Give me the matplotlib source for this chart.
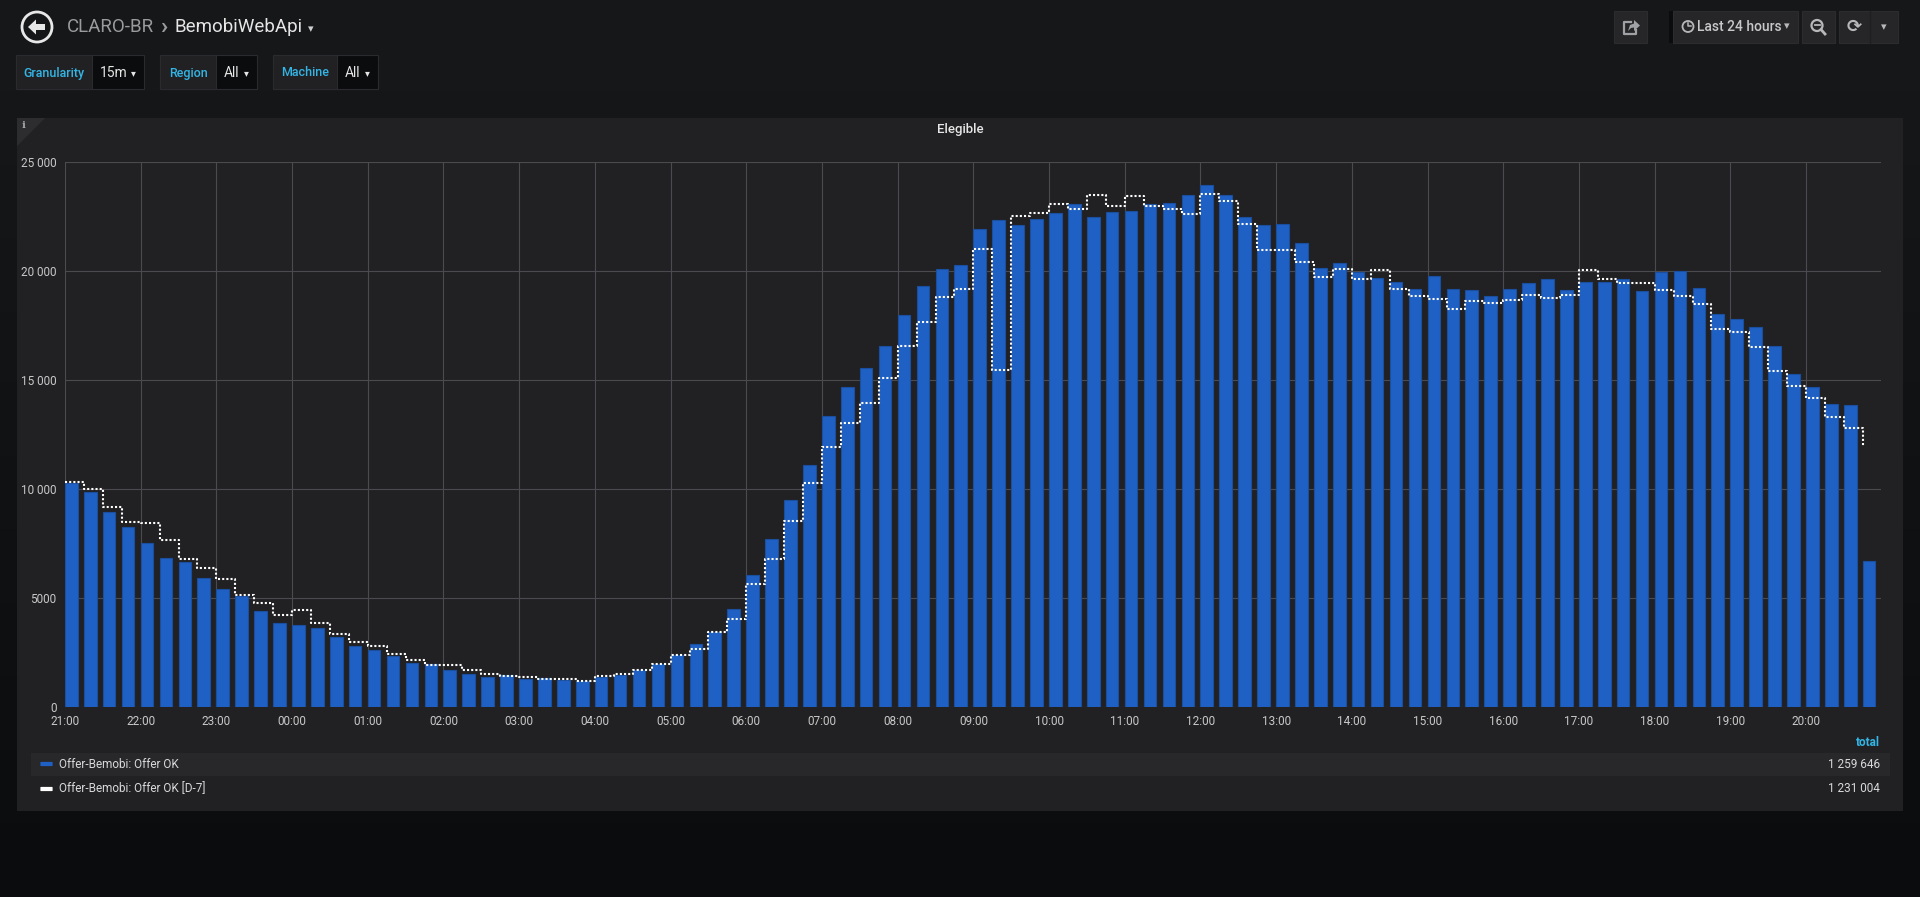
import numpy as np
import matplotlib
matplotlib.use("Agg")
import matplotlib.pyplot as plt
from matplotlib.patches import Rectangle, Polygon, Circle, FancyBboxPatch

plt.rcParams['font.family'] = ['Roboto', 'DejaVu Sans']

# 15 minute buckets starting 21:00
offer_ok = [10283, 9860, 8926, 8264, 7535, 6822, 6669, 5906, 5413, 5108, 4395, 3869,
            3750, 3632, 3207, 2800, 2613, 2359, 2036, 1985, 1714, 1527, 1358, 1459,
            1290, 1324, 1222, 1188, 1358, 1459, 1697, 1968, 2376, 2902, 3462, 4497,
            6041, 7687, 9486, 11081, 13338, 14679, 15561, 16563, 17971, 19312, 20075, 20262,
            21925, 22350, 22095, 22401, 22655, 23079, 22468, 22706, 22757, 23079, 23130, 23469,
            23962, 23469, 22468, 22112, 22146, 21297, 20160, 20347, 19957, 19668, 19498, 19159,
            19770, 19159, 19125, 18854, 19176, 19431, 19634, 19142, 19515, 19481, 19634, 19074,
            19957, 19991, 19227, 18022, 17802, 17446, 16546, 15256, 14697, 13916, 13831, 6686]
offer_ok_d7 = [10318, 9978, 9164, 8502, 8451, 7653, 6771, 6364, 5855, 5125, 4752, 4243,
               4446, 3869, 3360, 2987, 2800, 2444, 2138, 1935, 1935, 1714, 1527, 1442,
               1392, 1290, 1273, 1205, 1442, 1493, 1714, 1952, 2376, 2681, 3462, 4056,
               5634, 6771, 8536, 10284, 11913, 13033, 13966, 15103, 16563, 17649, 18820, 19159,
               20992, 15443, 22503, 22638, 23079, 22859, 23486, 22994, 23418, 22994, 22825, 22621,
               23537, 23215, 22163, 20958, 20958, 20415, 19702, 20109, 19617, 20024, 19159, 18854,
               18701, 18277, 18633, 18515, 18684, 18922, 18752, 18888, 20024, 19651, 19447, 19430,
               19108, 18837, 18464, 17361, 17191, 16495, 15392, 14747, 14170, 13305, 12813, 11981]
hour_labels = ['21:00', '22:00', '23:00', '00:00', '01:00', '02:00', '03:00', '04:00',
               '05:00', '06:00', '07:00', '08:00', '09:00', '10:00', '11:00', '12:00',
               '13:00', '14:00', '15:00', '16:00', '17:00', '18:00', '19:00', '20:00']
y_ticks = [0, 5000, 10000, 15000, 20000, 25000]
y_labels = ['0', '5000', '10 000', '15 000', '20 000', '25 000']
series_names = ['Offer-Bemobi: Offer OK', 'Offer-Bemobi: Offer OK [D-7]']
series_totals = ['1 259 646', '1 231 004']

W, H = 1920, 897
fig = plt.figure(figsize=(W / 100, H / 100), dpi=100)

# background / chrome layer in pixel coordinates
bg = fig.add_axes([0, 0, 1, 1])
bg.set_xlim(0, W)
bg.set_ylim(H, 0)
bg.axis('off')
grad = np.linspace(0, 1, 256).reshape(-1, 1)
top_c = np.array([0x16, 0x17, 0x19]) / 255
bot_c = np.array([0x0b, 0x0c, 0x0e]) / 255
img = top_c + (bot_c - top_c) * np.clip((grad - 0.1) / 0.9, 0, 1)[..., None] * np.ones((1, 1, 3))
bg.imshow(img, extent=[0, W, H, 0], aspect='auto', zorder=0)

# header
bg.add_patch(Circle((37, 27), 15, fill=False, ec='#e8e8e8', lw=2, zorder=2))
bg.add_patch(Polygon([[28, 27], [36, 19.5], [36, 24], [45, 24], [45, 30], [36, 30], [36, 34.5]],
                     closed=True, fc='#e8e8e8', ec='none', zorder=2))
bg.text(67, 27, 'CLARO-BR', color='#9a9b9d', fontsize=13.5, va='center', ha='left', zorder=2)
bg.text(160, 27, '›', color='#9a9b9d', fontsize=17, va='center', ha='left', weight='bold', zorder=2)
bg.text(175, 27, 'BemobiWebApi', color='#e6e6e6', fontsize=13.5, va='center', ha='left', zorder=2)
bg.text(308, 29, '▾', color='#cfcfcf', fontsize=8, va='center', ha='left', family='DejaVu Sans', zorder=2)

# template variables
variables = [('Granularity', '15m', 16, 92, 144), ('Region', 'All', 160, 216, 257),
             ('Machine', 'All', 273, 337, 378)]
for label, value, x0, x1, x2 in variables:
    bg.add_patch(Rectangle((x0, 55), x1 - x0, 34, fc='#212124', ec='#2b2b2f', lw=0.8, zorder=2))
    bg.add_patch(Rectangle((x1, 55), x2 - x1, 34, fc='#0b0c0e', ec='#2b2b2f', lw=0.8, zorder=2))
    bg.text((x0 + x1) / 2, 73, label, color='#33b5e5', fontsize=9, weight='medium',
            va='center', ha='center', zorder=3)
    bg.text(x1 + 8, 73, value, color='#e6e6e6', fontsize=10, va='center', ha='left', zorder=3)
    bg.text(x2 - 8, 73, '▾', color='#e6e6e6', fontsize=7, va='center', ha='right',
            family='DejaVu Sans', zorder=3)

# top right buttons
for bx0, bx1 in [(1614, 1647), (1673, 1798), (1802, 1835), (1839, 1898)]:
    bg.add_patch(Rectangle((bx0, 11), bx1 - bx0, 32, fc='#262628', ec='#2c2c2f', lw=0.8, zorder=2))
bg.add_patch(Rectangle((1669, 11), 4, 32, fc='#0b0c0e', ec='none', zorder=2))
bg.plot([1870, 1870], [11, 43], color='#1f1f21', lw=1, zorder=3)
# share icon
bg.plot([1631, 1624, 1624, 1636, 1636], [22, 22, 34, 34, 30], color='#9fa1a4', lw=1.6, zorder=3)
bg.add_patch(Polygon([[1628, 31], [1630, 25], [1634, 23.5], [1634, 20], [1640, 25.5],
                      [1634, 31], [1634, 27.5], [1631, 28]], closed=True,
                     fc='#9fa1a4', ec='none', zorder=3))
bg.add_patch(Circle((1688, 26.5), 5.5, fill=False, ec='#b8b8ba', lw=1.3, zorder=3))
bg.plot([1688, 1688, 1691], [23, 26.5, 26.5], color='#b8b8ba', lw=1.1, zorder=3)
bg.text(1697, 27, 'Last 24 hours', color='#c8c8ca', fontsize=10, ha='left', va='center',
        weight='medium', zorder=3)
bg.text(1787, 26, '▾', color='#b8b8ba', fontsize=8, ha='center', va='center',
        family='DejaVu Sans', zorder=3)
bg.add_patch(Circle((1817, 25.5), 5.5, fill=False, ec='#b8b8ba', lw=1.6, zorder=3))
bg.plot([1821, 1825], [29.5, 34], color='#b8b8ba', lw=2, zorder=3)
bg.plot([1814.5, 1819.5], [25.5, 25.5], color='#b8b8ba', lw=1.3, zorder=3)
bg.text(1854.5, 27, '⟳', color='#b8b8ba', fontsize=13, ha='center', va='center',
        family='DejaVu Sans', weight='bold', zorder=3)
bg.text(1884, 27, '▾', color='#b8b8ba', fontsize=8, ha='center', va='center',
        family='DejaVu Sans', zorder=3)

# panel
bg.add_patch(Rectangle((17, 118), 1886, 693, fc='#212124', ec='none', zorder=1))
bg.add_patch(Polygon([[17, 118], [45, 118], [17, 146]], closed=True, fc='#2d2d30', ec='none', zorder=2))
bg.text(24, 125, 'i', color='#a8a8ab', fontsize=7.5, ha='center', va='center',
        family='DejaVu Serif', weight='bold', zorder=3)
bg.text(960, 130, 'Elegible', color='#e6e6e6', fontsize=9.5, weight='medium',
        ha='center', va='center', zorder=3)

# legend
bg.add_patch(Rectangle((31, 753), 1859, 23, fc='#28282b', ec='none', zorder=2))
bg.text(1880, 742, 'total', color='#33b5e5', fontsize=8.5, weight='bold', ha='right',
        va='center', zorder=3)
for i, (name, total, col) in enumerate(zip(series_names, series_totals, ['#1f60c4', '#ffffff'])):
    yy = 764 + 25 * i
    bg.add_patch(FancyBboxPatch((41, yy - 1.5), 11, 3, boxstyle='round,pad=0.6',
                                fc=col, ec='none', zorder=3))
    bg.text(59, yy, name, color='#d8d9da', fontsize=8.5, ha='left', va='center', zorder=3)
    bg.text(1880, yy, total, color='#d8d9da', fontsize=8.5, ha='right', va='center', zorder=3)

# chart
px_per_hour = 75.7
ax = fig.add_axes([65 / W, (H - 707) / H, (1881 - 65) / W, (707 - 162) / H])
ax.set_facecolor('none')
x = np.arange(len(offer_ok)) * 0.25
ax.bar(x, offer_ok, width=0.25 * 0.665, align='edge', color='#1f60c4',
       edgecolor='#1a4f9f', linewidth=0.8, zorder=2)
ax.step(x, offer_ok_d7, where='post', color='white', lw=1.5,
        linestyle=(0, (1, 1)), zorder=3)
ax.set_xlim(0, (1881 - 65) / px_per_hour)
ax.set_ylim(0, 25000)
ax.set_xticks(np.arange(len(hour_labels)))
ax.set_xticklabels(hour_labels)
ax.set_yticks(y_ticks)
ax.set_yticklabels(y_labels)
ax.grid(True, color='#4a4a4f', lw=0.8, zorder=1)
ax.set_axisbelow(True)
for s in ax.spines.values():
    s.set_visible(False)
ax.tick_params(length=0, colors='#c8c8c8', labelsize=8.5, pad=6)

fig.savefig('out.png', dpi=100, facecolor='#161719')
